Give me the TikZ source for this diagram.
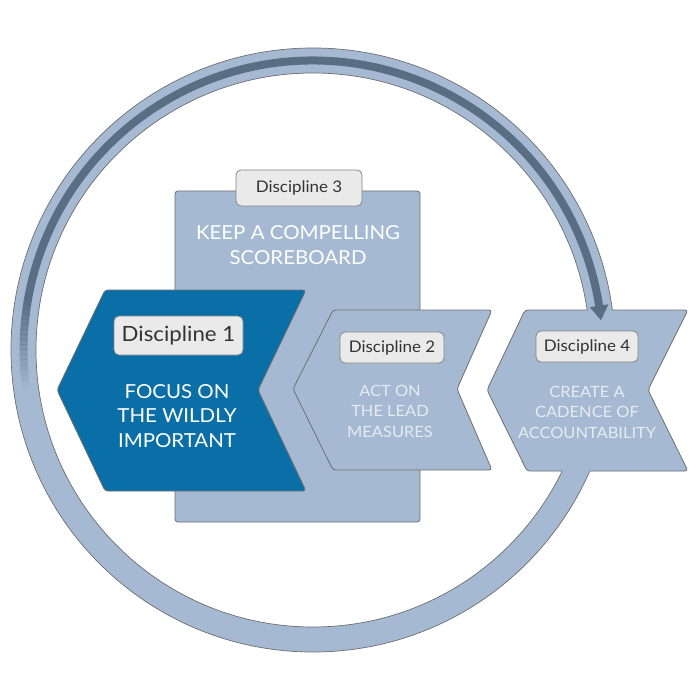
\documentclass[tikz,border=0pt]{standalone}
\usepackage{fontspec}
\setmainfont[FakeStretch=1.06]{Lato}
\usetikzlibrary{calc}
\definecolor{ringc}{HTML}{A5BAD2}
\definecolor{stripec}{HTML}{596E83}
\definecolor{dblue}{HTML}{0B6FA7}
\definecolor{bord}{HTML}{6E6E6E}
\definecolor{labfill}{HTML}{EAEAEA}
\definecolor{labtxt}{HTML}{333333}
\definecolor{softtxt}{HTML}{E6EBF2}
\begin{document}
\begin{tikzpicture}[x=1pt,y=-1pt,
  shapebox/.style={draw=bord,line width=0.8pt,rounded corners=3pt},
  labbox/.style={draw=bord!85,fill=labfill,rounded corners=5pt,line width=0.8pt,text=labtxt,inner sep=0pt},
  bigtxt/.style={align=center,inner sep=0pt,font=\fontsize{19.3}{24.5}\selectfont},
  smalltxt/.style={align=center,inner sep=0pt,text=softtxt,font=\fontsize{15.5}{20.5}\selectfont}]
\useasboundingbox (0,0) rectangle (700,700);
\fill[white] (0,0) rectangle (700,700);
\coordinate (c) at (313,350);
% ring
\path[fill=ringc,draw=bord,line width=0.7pt,even odd rule] (c) circle[radius=302pt] (c) circle[radius=277pt];
% Discipline 3 board
\draw[shapebox,fill=ringc] (175,191) rectangle (420,522);
\node[labbox,minimum width=126pt,minimum height=36pt,font=\fontsize{16}{19}\selectfont] (l3) at (299,188) {Discipline 3};
\node[bigtxt,text=white] (t3) at (298,245) {KEEP A COMPELLING\\SCOREBOARD};
% Discipline 1
\draw[shapebox,fill=dblue] (105,290) -- (306,290) -- (258,390) -- (306,491) -- (105,491) -- (57,390) -- cycle;
\node[labbox,minimum width=129pt,minimum height=39pt,font=\fontsize{21}{24}\selectfont] (l1) at (178.5,335.5) {Discipline 1};
\node[bigtxt,text=white] (t1) at (177,416) {FOCUS ON\\THE WILDLY\\IMPORTANT};
% Discipline 2
\draw[shapebox,fill=ringc] (333,310) -- (492,310) -- (457,389) -- (492,470) -- (333,470) -- (293,389) -- cycle;
\node[labbox,minimum width=104pt,minimum height=31pt,font=\fontsize{16}{19}\selectfont] (l2) at (392,347.5) {Discipline 2};
\node[smalltxt] (t2) at (390,411) {ACT ON\\THE LEAD\\MEASURES};
% Discipline 4
\draw[shapebox,fill=ringc] (525,310) -- (688,310) -- (648,390) -- (688,471) -- (527,471) -- (487,390) -- cycle;
\begin{scope}
  \clip (540,309.3) rectangle (640,312) (540,468.5) rectangle (640,471.8);
  \fill[ringc,even odd rule] (c) circle[radius=301.6pt] (c) circle[radius=277.4pt];
\end{scope}
% stripe with fade
\foreach \k in {0,...,17}{
  \pgfmathsetmacro\op{(\k+0.5)/18}
  \pgfmathsetmacro\aa{188-\k}
  \pgfmathsetmacro\bb{187-\k-0.1}
  \draw[stripec,line width=8pt,opacity=\op] (c) ++(\aa:289.5pt) arc[start angle=\aa,end angle=\bb,radius=289.5pt];
}
\draw[stripec,line width=8pt] (c) ++(170.2:289.5pt) arc[start angle=170.2,end angle=8.6,radius=289.5pt];
\fill[stripec] ([shift={(8.8:280pt)}]c) -- ([shift={(5.9:289.5pt)}]c) -- ([shift={(8.8:299pt)}]c) -- cycle;
\node[labbox,minimum width=102pt,minimum height=31pt,font=\fontsize{16}{19}\selectfont] (l4) at (587,346.5) {Discipline 4};
\node[smalltxt] (t4) at (587,412) {CREATE A\\CADENCE OF\\ACCOUNTABILITY};
\end{tikzpicture}
\end{document}
